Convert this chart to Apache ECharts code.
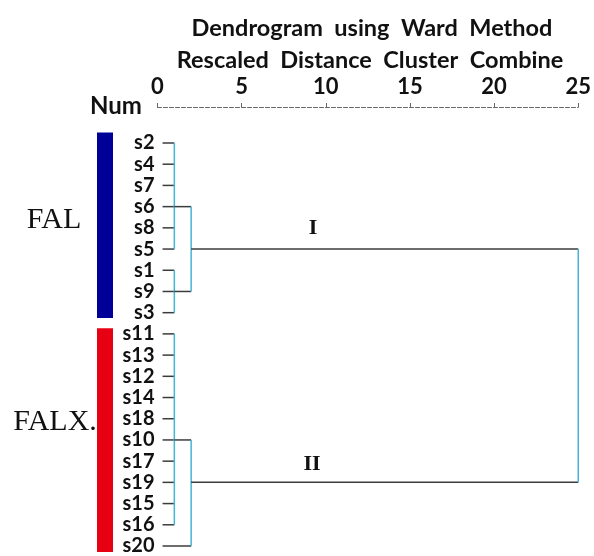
<!DOCTYPE html>
<html><head><meta charset="utf-8">
<script src="https://cdn.jsdelivr.net/npm/echarts@6/dist/echarts.min.js"></script>
<style>html,body{margin:0;padding:0;background:#fff}#c{width:594px;height:556px}</style>
</head><body><div id="c"></div>
<script>
// leaves in dendrogram order (top to bottom)
const leaves = ['s2','s4','s7','s6','s8','s5','s1','s9','s3','s11','s13','s12','s14','s18','s10','s17','s19','s15','s16','s20'];
const xTicks = [0,5,10,15,20,25];
// merges: children (leaf names or merge names), rescaled distance, leaf row where the merged branch exits
const mergeNames    = ['A','B','C','I','II','root'];
const mergeChildren = [['s2','s4','s7','s6','s8','s5'], ['s1','s9','s3'], ['s11','s13','s12','s14','s18','s10','s17','s19','s15','s16'], ['A','B'], ['C','s20'], ['I','II']];
const mergeHeights  = [1, 1, 1, 2, 2, 25];
const mergeExit     = ['s6','s9','s10','s5','s19', null];
// groups
const groupNames = ['FAL','FALX.'];
const groupFirst = ['s2','s11'];
const groupLast  = ['s3','s20'];
const groupColors = ['#000099','#e60012'];
const clusterLabels = ['I','II'];

const LEAF_START = 0.3;
const rowOf = n => leaves.indexOf(n) + 1;
const node = {};
leaves.forEach(l => node[l] = {x: LEAF_START, row: rowOf(l)});
const segs = [];
mergeNames.forEach((m, i) => {
  const h = mergeHeights[i];
  const rows = [];
  mergeChildren[i].forEach(c => {
    const nd = node[c];
    segs.push([nd.x, nd.row, h, nd.row, 0]);
    rows.push(nd.row);
  });
  segs.push([h, Math.min(...rows), h, Math.max(...rows), 1]);
  node[m] = {x: h, row: mergeExit[i] ? rowOf(mergeExit[i]) : null};
});

const barData = groupNames.map((g, i) => [rowOf(groupFirst[i]), rowOf(groupLast[i]), i]);

const chart = echarts.init(document.getElementById('c'), null, {renderer: 'canvas'});
const font = 'Lato, "Open Sans", sans-serif';
chart.setOption({
  animation: false,
  backgroundColor: '#fff',
  grid: {left: 157.5, right: 14, top: 143, bottom: 9},
  xAxis: {
    type: 'value', min: 0, max: 25, interval: 5, position: 'top', offset: 36,
    axisLine: {show: true, lineStyle: {color: '#666', type: [4, 2], width: 1}},
    axisTick: {show: true, length: 4, lineStyle: {color: '#666'}},
    axisLabel: {color: '#111', fontWeight: 'bold', fontSize: 22, fontFamily: font, margin: 9,
      formatter: v => xTicks.includes(v) ? String(v) : ''},
    splitLine: {show: false}
  },
  yAxis: {
    type: 'value', min: 1, max: 20, interval: 1, inverse: true,
    axisLine: {show: false}, axisTick: {show: false}, splitLine: {show: false},
    axisLabel: {color: '#111', fontWeight: 'bold', fontSize: 20, fontFamily: font, margin: 3,
      showMinLabel: true, showMaxLabel: true, formatter: v => leaves[v - 1] || ''}
  },
  series: [
    {
      type: 'custom', clip: false, data: segs,
      renderItem: (params, api) => {
        const p1 = api.coord([api.value(0), api.value(1)]);
        const p2 = api.coord([api.value(2), api.value(3)]);
        const vert = api.value(4) === 1;
        return {type: 'line', shape: {x1: p1[0], y1: p1[1], x2: p2[0], y2: p2[1]},
          style: {stroke: vert ? '#45b5d6' : '#3c3c3c', lineWidth: 1.5}};
      }
    },
    {
      type: 'custom', clip: false, data: barData,
      renderItem: (params, api) => {
        const i = api.value(2);
        const top = api.coord([0, api.value(0) - (i === 0 ? 0.5 : 0.27)])[1];
        const bot = api.coord([0, api.value(1) + (i === 0 ? 0.25 : 0.28)])[1];
        return {type: 'rect', shape: {x: 97, y: top, width: 16, height: bot - top},
          style: {fill: groupColors[i]}};
      }
    }
  ],
  graphic: [
    {type: 'text', x: 372, y: 28, style: {text: 'Dendrogram  using  Ward  Method', font: 'bold 23.5px ' + font, fill: '#111', align: 'center', verticalAlign: 'middle'}},
    {type: 'text', x: 370, y: 60, style: {text: 'Rescaled  Distance  Cluster  Combine', font: 'bold 23.5px ' + font, fill: '#111', align: 'center', verticalAlign: 'middle'}},
    {type: 'text', x: 90, y: 106, style: {text: 'Num', font: 'bold 24px ' + font, fill: '#111', align: 'left', verticalAlign: 'middle'}},
    {type: 'text', x: 54, y: 220, style: {text: groupNames[0], font: '30px "Liberation Serif", serif', fill: '#111', align: 'center', verticalAlign: 'middle'}},
    {type: 'text', x: 55, y: 422, style: {text: groupNames[1], font: '30px "Liberation Serif", serif', fill: '#111', align: 'center', verticalAlign: 'middle'}},
    {type: 'text', x: 313, y: 228, style: {text: clusterLabels[0], font: 'bold 22px "Liberation Serif", serif', fill: '#111', align: 'center', verticalAlign: 'middle'}},
    {type: 'text', x: 312, y: 464, style: {text: clusterLabels[1], font: 'bold 22px "Liberation Serif", serif', fill: '#111', align: 'center', verticalAlign: 'middle'}}
  ]
});
</script>
</body></html>
